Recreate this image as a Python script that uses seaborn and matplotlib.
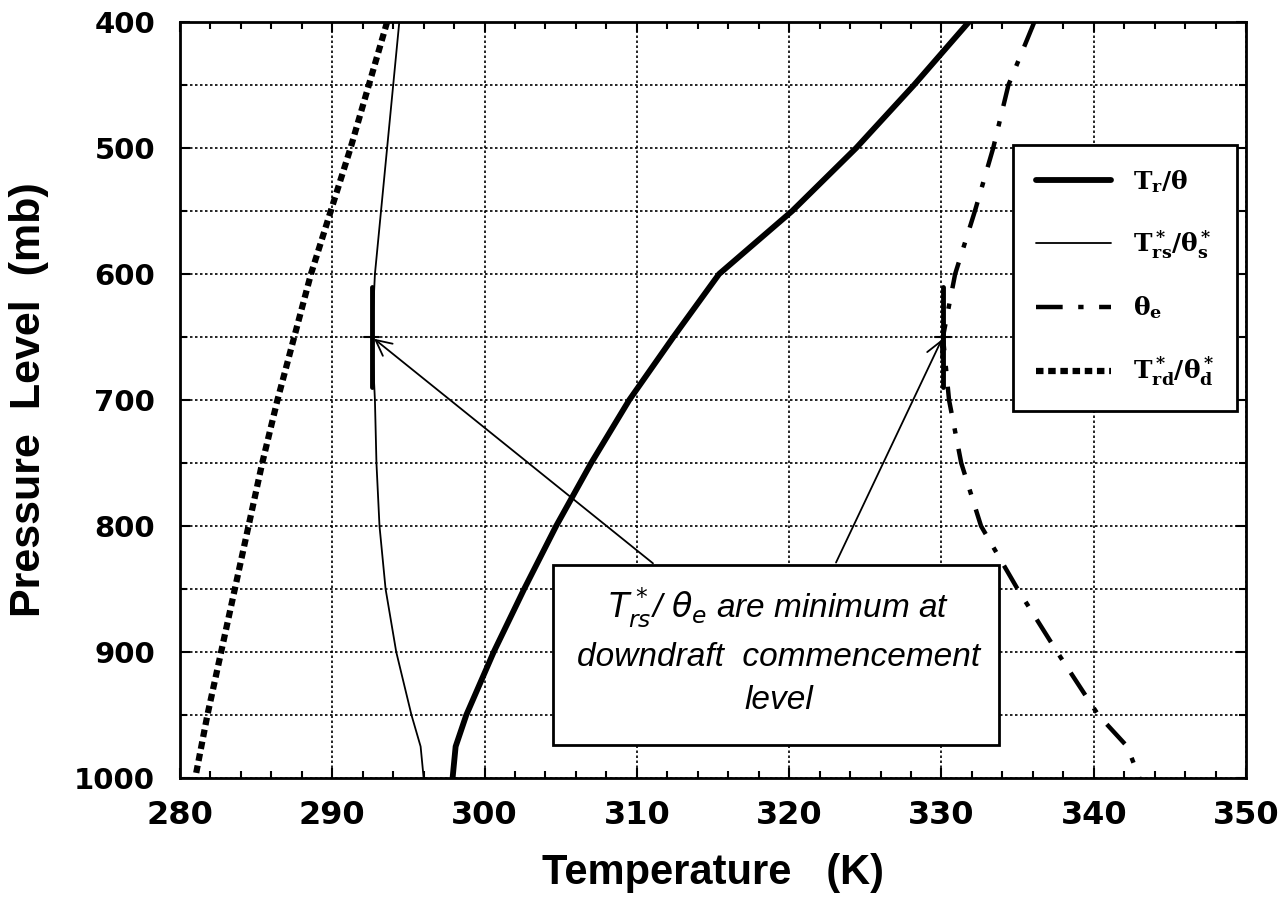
import numpy as np
import pandas as pd
import seaborn as sns
import matplotlib.pyplot as plt
from matplotlib.patches import Rectangle
from matplotlib.ticker import MultipleLocator

sns.set_theme(style="white")
plt.rcParams['font.family'] = ['Liberation Sans', 'DejaVu Sans']
for k in ['text.color', 'axes.labelcolor', 'xtick.color', 'ytick.color', 'axes.edgecolor']:
    plt.rcParams[k] = 'black'

# ---- data ----
pressure = [400, 450, 500, 550, 600, 650, 700, 750, 800, 850, 900, 950, 975, 1000]
t_r      = [331.8, 328.2, 324.4, 320.2, 315.4, 312.4, 309.5, 307.0, 304.7, 302.6, 300.6, 298.8, 298.1, 297.9]
t_rs     = [294.4, 294.0, 293.6, 293.2, 292.8, 292.6, 292.8, 292.9, 293.1, 293.5, 294.2, 295.2, 295.8, 296.0]
theta_e  = [336.1, 334.4, 333.4, 332.2, 330.9, 330.1, 330.5, 331.3, 332.6, 335.0, 337.6, 340.3, 342.2, 343.0]
t_rd     = [293.6, 292.4, 291.2, 289.9, 288.6, 287.5, 286.4, 285.4, 284.5, 283.6, 282.7, 281.8, 281.4, 281.0]

labels = [r'$\mathbf{T_r/\theta}$', r'$\mathbf{T^*_{rs}/\theta^*_s}$',
          r'$\mathbf{\theta_e}$', r'$\mathbf{T^*_{rd}/\theta^*_d}$']
commence_level = 650
note = "$T^*_{rs}$/ $\\theta_e$ are minimum at\ndowndraft  commencement\nlevel"

df = pd.DataFrame({'p': pressure, 'tr': t_r, 'trs': t_rs, 'the': theta_e, 'trd': t_rd})

fig = plt.figure(figsize=(12.81, 9.02), dpi=100)
ax = fig.add_axes([180/1281, 1-778/902, 1066/1281, 756/902])

sns.lineplot(data=df, x='tr', y='p', orient='y', sort=True, ax=ax, color='black',
             lw=4.2, label=labels[0])
sns.lineplot(data=df, x='trs', y='p', orient='y', sort=True, ax=ax, color='black',
             lw=1.3, label=labels[1])
sns.lineplot(data=df, x='the', y='p', orient='y', sort=True, ax=ax, color='black',
             lw=3.2, dashes=(6, 3.5, 1.2, 3.5), label=labels[2])
sns.lineplot(data=df, x='trd', y='p', orient='y', sort=True, ax=ax, color='black',
             lw=4.5, dashes=(1.2, 0.75), label=labels[3])
for ln in ax.lines:
    ln.set_dash_capstyle('butt')

ax.set_xlim(280, 350)
ax.set_ylim(1000, 400)

ax.xaxis.set_major_locator(MultipleLocator(10))
ax.xaxis.set_minor_locator(MultipleLocator(2))
ax.yaxis.set_major_locator(MultipleLocator(100))
ax.yaxis.set_minor_locator(MultipleLocator(50))
ax.grid(True, which='major', axis='x', ls=(0, (1.5, 1.5)), color='black', lw=1.2)
ax.grid(True, which='both', axis='y', ls=(0, (1.5, 1.5)), color='black', lw=1.2)
ax.tick_params(which='both', direction='in', top=True, bottom=True, left=True, right=True,
               color='black')
ax.tick_params(which='major', length=7, width=1.5)
ax.tick_params(which='minor', length=5, width=1.5)
ax.tick_params(axis='x', labelsize=23, pad=16)
ax.tick_params(axis='y', labelsize=21, pad=18)
for lab in ax.get_xticklabels() + ax.get_yticklabels():
    lab.set_fontweight('bold')
    lab.set_family('DejaVu Sans')
for s in ax.spines.values():
    s.set_color('black')
    s.set_linewidth(2)

ax.set_xlabel('Temperature   (K)', fontsize=30, fontweight='bold', labelpad=16)
ax.set_ylabel('Pressure  Level  (mb)', fontsize=31, fontweight='bold', labelpad=18)

# markers at the downdraft commencement level
idx = pressure.index(commence_level)
for vals in (t_rs, theta_e):
    x0 = vals[idx]
    ax.plot([x0, x0], [commence_level - 40, commence_level + 40], color='black', lw=3.5)
    ax.plot([x0 - 0.5, x0 + 0.5], [commence_level, commence_level], color='black', lw=1.5)

# annotation box
ax.add_patch(Rectangle((304.5, 831), 29.3, 143, facecolor='white', edgecolor='black',
                       lw=2, zorder=5))
ax.text(319.3, 899, note, ha='center', va='center', fontsize=24, style='italic',
        linespacing=1.5, zorder=6, math_fontfamily='dejavusans')
ax.annotate('', xy=(t_rs[idx], commence_level), xytext=(311.2, 831),
            arrowprops=dict(arrowstyle='->', color='black', lw=1.3, mutation_scale=28),
            zorder=4)
ax.annotate('', xy=(theta_e[idx], commence_level), xytext=(323.0, 831),
            arrowprops=dict(arrowstyle='->', color='black', lw=1.3, mutation_scale=28),
            zorder=4)

leg = ax.legend(loc='upper right', bbox_to_anchor=(0.9915, 0.837), borderaxespad=0,
                frameon=True, fancybox=False, framealpha=1, edgecolor='black',
                handlelength=3.0, labelspacing=1.35, borderpad=0.9, handletextpad=0.9,
                prop={'size': 18, 'weight': 'bold', 'math_fontfamily': 'dejavuserif'})
leg.get_frame().set_linewidth(2)
leg.set_zorder(10)

fig.savefig('out.png', dpi=100, facecolor='white')
